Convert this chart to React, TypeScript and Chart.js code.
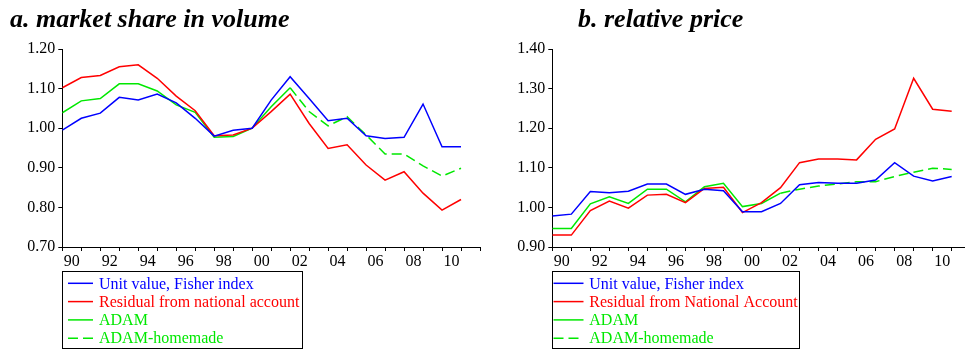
import React, { useEffect, useRef } from 'react';
import { Chart, registerables } from 'chart.js';
Chart.register(...registerables);

const years = [1990, 1991, 1992, 1993, 1994, 1995, 1996, 1997, 1998, 1999, 2000, 2001, 2002, 2003, 2004, 2005, 2006, 2007, 2008, 2009, 2010, 2011];
const labelYears = [1990, 1992, 1994, 1996, 1998, 2000, 2002, 2004, 2006, 2008, 2010];
const tickLabels = ['90', '92', '94', '96', '98', '00', '02', '04', '06', '08', '10'];

const titleA = 'a. market share in volume';
const titleB = 'b. relative price';

const legendA = ['Unit value, Fisher index', 'Residual from national account', 'ADAM', 'ADAM-homemade'];
const legendB = ['Unit value, Fisher index', 'Residual from National Account', 'ADAM', 'ADAM-homemade'];

// a. market share in volume
const shareUnitValue = [0.995, 1.025, 1.038, 1.078, 1.071, 1.086, 1.064, 1.025, 0.980, 0.995, 1.000, 1.071, 1.130, 1.075, 1.019, 1.025, 0.981, 0.974, 0.977, 1.061, 0.953, 0.953];
const shareResidual = [1.102, 1.128, 1.133, 1.155, 1.160, 1.126, 1.081, 1.044, 0.981, 0.983, 1.000, 1.042, 1.086, 1.012, 0.949, 0.958, 0.907, 0.869, 0.890, 0.836, 0.793, 0.820];
const shareAdam = [1.039, 1.069, 1.075, 1.112, 1.112, 1.094, 1.059, 1.040, 0.977, 0.979, 1.000, 1.054, 1.102, null, null, null, null, null, null, null, null, null];
const shareAdamHomemade = [null, null, null, null, null, null, null, null, null, null, null, null, 1.102, 1.042, 1.006, 1.029, 0.983, 0.935, 0.935, 0.905, 0.879, 0.899];

// b. relative price
const priceUnitValue = [0.978, 0.983, 1.040, 1.037, 1.041, 1.059, 1.059, 1.033, 1.046, 1.042, 0.989, 0.989, 1.010, 1.057, 1.063, 1.061, 1.061, 1.069, 1.113, 1.079, 1.067, 1.078];
const priceResidual = [0.930, 0.930, 0.992, 1.016, 0.998, 1.031, 1.033, 1.012, 1.048, 1.051, 0.987, 1.012, 1.050, 1.113, 1.122, 1.122, 1.120, 1.172, 1.198, 1.326, 1.248, 1.243];
const priceAdam = [0.947, 0.947, 1.009, 1.027, 1.010, 1.046, 1.046, 1.014, 1.052, 1.061, 1.002, 1.010, 1.036, null, null, null, null, null, null, null, null, null];
const priceAdamHomemade = [null, null, null, null, null, null, null, null, null, null, null, null, 1.036, 1.046, 1.054, 1.059, 1.065, 1.065, 1.078, 1.089, 1.099, 1.096];

const BLUE = '#0000ff';
const RED = '#ff0000';
const GREEN = '#00e800';
const FONT = '"Liberation Serif", "Times New Roman", serif';

const figurePlugin = {
  id: 'figure',
  afterDraw(chart: any, _args: any, opts: any) {
    const ctx = chart.ctx;
    ctx.save();
    ctx.fillStyle = '#000';
    ctx.font = `italic bold 26px ${FONT}`;
    ctx.textBaseline = 'alphabetic';
    ctx.textAlign = 'left';
    ctx.fillText(opts.title, opts.titleX, opts.titleY);
    const L = opts.legend;
    ctx.lineWidth = 1;
    ctx.strokeStyle = '#000';
    ctx.setLineDash([]);
    ctx.strokeRect(L.x + 0.5, L.y + 0.5, L.w, L.h);
    chart.data.datasets.forEach((ds: any, i: number) => {
      const cy = L.y + L.firstRow + i * L.rowH;
      ctx.beginPath();
      ctx.setLineDash(ds.borderDash || []);
      ctx.strokeStyle = ds.borderColor;
      ctx.lineWidth = 1.5;
      ctx.moveTo(L.sampleX, cy);
      ctx.lineTo(L.sampleX + L.sampleW, cy);
      ctx.stroke();
      ctx.setLineDash([]);
      ctx.fillStyle = ds.borderColor;
      ctx.font = `16px ${FONT}`;
      ctx.textBaseline = 'middle';
      ctx.fillText(ds.label, L.textX, cy + 1);
    });
    ctx.restore();
  },
};

function makeData(labels: string[], a: any[], b: any[], c: any[], d: any[]) {
  const pts = (arr: any[]) => years.map((yr, i) => ({ x: yr, y: arr[i] }));
  const base = { borderWidth: 1.5, pointRadius: 0, tension: 0, fill: false, spanGaps: false };
  return {
    datasets: [
      { ...base, label: labels[0], data: pts(a), borderColor: BLUE },
      { ...base, label: labels[1], data: pts(b), borderColor: RED },
      { ...base, label: labels[2], data: pts(c), borderColor: GREEN },
      { ...base, label: labels[3], data: pts(d), borderColor: GREEN, borderDash: [10, 5] },
    ],
  };
}

function makeOptions(cfg: any) {
  const tickFont = { family: FONT, size: 16 };
  return {
    responsive: false,
    animation: false as const,
    devicePixelRatio: 1,
    layout: { padding: { left: 0, right: cfg.padRight, top: 49, bottom: 81 } },
    plugins: {
      legend: { display: false },
      tooltip: { enabled: false },
      title: { display: false },
      figure: cfg.figure,
    },
    scales: {
      x: {
        type: 'linear',
        min: 1990,
        max: cfg.xMax,
        afterBuildTicks: (s: any) => {
          s.ticks = cfg.tickYears.map((v: number) => ({ value: v }));
        },
        afterFit: (s: any) => {
          s.height = 22;
        },
        grid: { drawOnChartArea: false, drawTicks: true, tickLength: 4, color: '#000', lineWidth: 1 },
        border: { display: true, color: '#000', width: 1 },
        ticks: {
          autoSkip: false,
          maxRotation: 0,
          minRotation: 0,
          labelOffset: 9.5,
          padding: 1,
          color: '#000',
          font: tickFont,
          callback: (v: number) => {
            const idx = labelYears.indexOf(v);
            return idx >= 0 ? tickLabels[idx] : '';
          },
        },
      },
      y: {
        type: 'linear',
        min: cfg.yMin,
        max: cfg.yMax,
        afterFit: (s: any) => {
          s.width = 62.3;
        },
        grid: { drawOnChartArea: false, drawTicks: true, tickLength: 4, color: '#000', lineWidth: 1 },
        border: { display: true, color: '#000', width: 1 },
        ticks: {
          stepSize: 0.1,
          padding: 3,
          color: '#000',
          font: tickFont,
          callback: (v: number) => Number(v).toFixed(2),
        },
      },
    },
  };
}

const tickYearsA = [...years, 2012];
const tickYearsB = years;

function ChartCanvas({ data, options, width, height, left }: any) {
  const ref = useRef<HTMLCanvasElement | null>(null);
  useEffect(() => {
    if (!ref.current) return;
    const chart = new Chart(ref.current, { type: 'line', data, options, plugins: [figurePlugin] } as any);
    return () => chart.destroy();
  }, []);
  return (
    <canvas
      ref={ref}
      width={width}
      height={height}
      style={{ position: 'absolute', left, top: 0, width, height, display: 'block' }}
    />
  );
}

export default function App() {
  useEffect(() => {
    document.body.style.margin = '0';
    document.body.style.background = '#fff';
  }, []);

  const dataA = makeData(legendA, shareUnitValue, shareResidual, shareAdam, shareAdamHomemade);
  const dataB = makeData(legendB, priceUnitValue, priceResidual, priceAdam, priceAdamHomemade);

  const optA = makeOptions({
    padRight: 10,
    xMax: 2012,
    tickYears: tickYearsA,
    yMin: 0.7,
    yMax: 1.2,
    figure: {
      title: titleA,
      titleX: 10,
      titleY: 27,
      legend: { x: 62, y: 271, w: 240, h: 77, sampleX: 68, sampleW: 25, textX: 99, firstRow: 12.3, rowH: 18.3 },
    },
  });
  const optB = makeOptions({
    padRight: 0,
    xMax: 2011.7,
    tickYears: tickYearsB,
    yMin: 0.9,
    yMax: 1.4,
    figure: {
      title: titleB,
      titleX: 88,
      titleY: 27,
      legend: { x: 62, y: 271, w: 247, h: 77, sampleX: 63.5, sampleW: 30, textX: 99.3, firstRow: 12.3, rowH: 18.3 },
    },
  });

  return (
    <div style={{ position: 'fixed', left: 0, top: 0, width: 965, height: 350, background: '#fff', overflow: 'hidden' }}>
      <ChartCanvas data={dataA} options={optA} width={490} height={350} left={0} />
      <ChartCanvas data={dataB} options={optB} width={475} height={350} left={490} />
    </div>
  );
}
